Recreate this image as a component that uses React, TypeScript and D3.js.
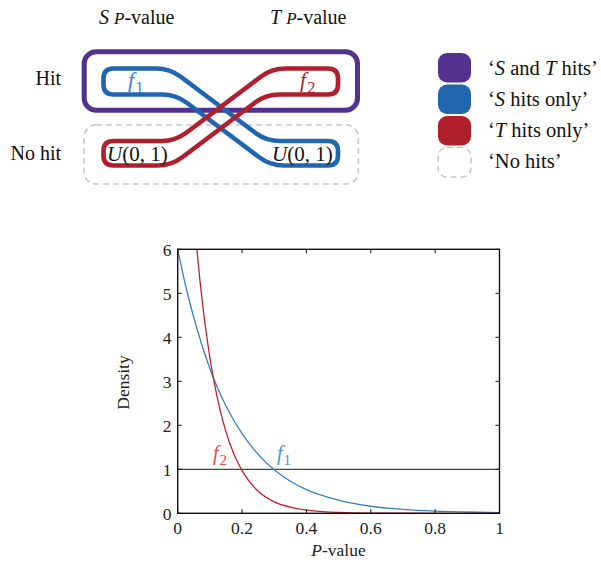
import React from "react";
import * as d3 from "d3";

// ---- data ----
const xTicks = [0, 0.2, 0.4, 0.6, 0.8, 1];
const xTickLabels = ["0", "0.2", "0.4", "0.6", "0.8", "1"];
const yTicks = [0, 1, 2, 3, 4, 5, 6];
const yTickLabels = ["0", "1", "2", "3", "4", "5", "6"];

const f1X = [0, 0.025, 0.05, 0.075, 0.1, 0.125, 0.15, 0.2, 0.25, 0.3, 0.35, 0.4, 0.5, 0.6, 0.7, 0.8, 0.9, 1.0];
const f1Y = [6, 5.16, 4.45, 3.83, 3.29, 2.83, 2.44, 1.81, 1.34, 0.99, 0.73, 0.54, 0.3, 0.16, 0.09, 0.05, 0.03, 0.015];

const f2X = [0.058, 0.07, 0.08, 0.09, 0.1, 0.115, 0.13, 0.15, 0.175, 0.2, 0.25, 0.3, 0.35, 0.4, 0.5, 0.6, 0.8, 1.0];
const f2Y = [6.12, 5.23, 4.59, 4.04, 3.54, 2.92, 2.4, 1.85, 1.34, 0.97, 0.5, 0.26, 0.14, 0.07, 0.02, 0.005, 0, 0];

const uniformLevel = 1;

const legendLabels = ["S and T hits", "S hits only", "T hits only", "No hits"];

const COL_PURPLE = "#53318f";
const COL_BLUE = "#2066ae";
const COL_RED = "#b11f2c";
const COL_GRAY = "#c8c8c8";
const COL_F1 = "#3a80c6";
const COL_F2 = "#c0212f";
const COL_F1_LABEL = "#4a93d3";
const COL_F2_LABEL = "#de4e48";

const FONT = "Liberation Serif, Times New Roman, serif";

// ---- chart geometry ----
const X0 = 177.7, X1 = 499.5, Y0 = 513.3, Y1 = 249.3;

function Sub({ base, sub, x, y, size, color, anchor }: any) {
  return (
    <text x={x} y={y} fontFamily={FONT} fontSize={size} fill={color} textAnchor={anchor || "start"}>
      <tspan fontStyle="italic">{base}</tspan>
      <tspan fontSize={size * 0.75} dx={1} dy={size * 0.25}>{sub}</tspan>
    </text>
  );
}

function Uniform({ x, y }: any) {
  return (
    <text x={x} y={y} fontFamily={FONT} fontSize={21} fill="#111">
      <tspan fontStyle="italic">U</tspan>
      <tspan>(0, 1)</tspan>
    </text>
  );
}

// blue loop: hit row on the left, no-hit row on the right
const loopPath = [
  "M113.5,68.5",
  "L156,68.5",
  "Q170,68.5 181.1,77",
  "L254.9,132.5",
  "Q266,141 280,141",
  "L328,141",
  "Q338,141 338,151",
  "L338,155.5",
  "Q338,165.5 328,165.5",
  "L284,165.5",
  "Q270,165.5 258.9,157",
  "L187.1,103",
  "Q176,94.5 162,94.5",
  "L113.5,94.5",
  "Q103.5,94.5 103.5,84.5",
  "L103.5,78.5",
  "Q103.5,68.5 113.5,68.5",
  "Z",
].join(" ");

export default function App() {
  const x = d3.scaleLinear().domain([0, 1]).range([X0, X1]);
  const y = d3.scaleLinear().domain([0, 6]).range([Y0, Y1]);

  const line = d3
    .line<[number, number]>()
    .x((d) => x(d[0]))
    .y((d) => y(d[1]))
    .curve(d3.curveMonotoneX);

  const f1 = line(f1X.map((v, i) => [v, f1Y[i]] as [number, number])) || "";
  const f2 = line(f2X.map((v, i) => [v, f2Y[i]] as [number, number])) || "";

  const tickLen = 4;
  const legendY = [53, 84.5, 116, 147.5];
  const legendTextY = [75, 105.5, 136.5, 168];

  return (
    <svg
      width={601}
      height={563}
      style={{ position: "absolute", left: 0, top: 0, background: "#fff" }}
      xmlns="http://www.w3.org/2000/svg"
    >
      <defs>
        <clipPath id="plotClip">
          <rect x={X0} y={Y1} width={X1 - X0} height={Y0 - Y1} />
        </clipPath>
      </defs>

      {/* ===== diagram ===== */}
      <text x={99} y={24} fontFamily={FONT} fontSize={20} fill="#111">
        <tspan fontStyle="italic">S</tspan>
        <tspan fontStyle="italic" fontSize={17} dx={5}>P</tspan>
        <tspan>-value</tspan>
      </text>
      <text x={270} y={24} fontFamily={FONT} fontSize={20} fill="#111">
        <tspan fontStyle="italic">T</tspan>
        <tspan fontStyle="italic" fontSize={17} dx={5}>P</tspan>
        <tspan>-value</tspan>
      </text>
      <text x={61} y={85} textAnchor="end" fontFamily={FONT} fontSize={20} fill="#111">Hit</text>
      <text x={61} y={159.5} textAnchor="end" fontFamily={FONT} fontSize={20} fill="#111">No hit</text>

      <rect x={84.2} y={51.8} width={357.5 - 84.2} height={110.2 - 51.8} rx={12} fill="none" stroke={COL_PURPLE} strokeWidth={5} />
      <rect x={84} y={125} width={358.3 - 84} height={184 - 125} rx={12} fill="none" stroke={COL_GRAY} strokeWidth={1.6} strokeDasharray="6,4" />

      <path d={loopPath} fill="none" stroke={COL_BLUE} strokeWidth={4.6} />
      <path d={loopPath} transform="translate(441.5,0) scale(-1,1)" fill="none" stroke={COL_RED} strokeWidth={4.6} />

      <Sub base="f" sub="1" x={128} y={87} size={22} color={COL_F1} />
      <Sub base="f" sub="2" x={300} y={87} size={22} color={COL_RED} />
      <Uniform x={107} y={161} />
      <Uniform x={272} y={161} />

      {/* legend */}
      {legendLabels.map((lab, i) => {
        const fill = i === 0 ? COL_PURPLE : i === 1 ? COL_BLUE : i === 2 ? COL_RED : "none";
        return (
          <g key={lab}>
            <rect
              x={438}
              y={legendY[i]}
              width={33}
              height={29.5}
              rx={9}
              fill={fill}
              stroke={i === 3 ? COL_GRAY : "none"}
              strokeWidth={1.6}
              strokeDasharray={i === 3 ? "6,4" : undefined}
            />
          </g>
        );
      })}
      <text x={488} y={legendTextY[0]} fontFamily={FONT} fontSize={20.5} fill="#111">
        ‘<tspan fontStyle="italic">S</tspan> and <tspan fontStyle="italic">T</tspan> hits’
      </text>
      <text x={488} y={legendTextY[1]} fontFamily={FONT} fontSize={20.5} fill="#111">
        ‘<tspan fontStyle="italic">S</tspan> hits only’
      </text>
      <text x={488} y={legendTextY[2]} fontFamily={FONT} fontSize={20.5} fill="#111">
        ‘<tspan fontStyle="italic">T</tspan> hits only’
      </text>
      <text x={488} y={legendTextY[3]} fontFamily={FONT} fontSize={20.5} fill="#111">
        ‘No hits’
      </text>

      {/* ===== chart ===== */}
      <line x1={X0} x2={X1} y1={y(uniformLevel)} y2={y(uniformLevel)} stroke="#444" strokeWidth={1.3} />
      <g clipPath="url(#plotClip)">
        <path d={f1} fill="none" stroke={COL_F1} strokeWidth={1.3} />
        <path d={f2} fill="none" stroke={COL_F2} strokeWidth={1.3} />
      </g>

      {/* frame */}
      <rect x={X0} y={Y1} width={X1 - X0} height={Y0 - Y1} fill="none" stroke="#111" strokeWidth={1.4} />

      {/* ticks */}
      {xTicks.map((t, i) => (
        <g key={"x" + i}>
          <line x1={x(t)} x2={x(t)} y1={Y0} y2={Y0 - tickLen} stroke="#111" strokeWidth={1} />
          <line x1={x(t)} x2={x(t)} y1={Y1} y2={Y1 + tickLen} stroke="#111" strokeWidth={1} />
          <text x={x(t)} y={533.5} textAnchor="middle" fontFamily={FONT} fontSize={17.5} fill="#222">
            {xTickLabels[i]}
          </text>
        </g>
      ))}
      {yTicks.map((t, i) => (
        <g key={"y" + i}>
          <line x1={X0} x2={X0 + tickLen} y1={y(t)} y2={y(t)} stroke="#111" strokeWidth={1} />
          <line x1={X1} x2={X1 - tickLen} y1={y(t)} y2={y(t)} stroke="#111" strokeWidth={1} />
          <text x={171.5} y={y(t) + 6.5} textAnchor="end" fontFamily={FONT} fontSize={17.5} fill="#222">
            {yTickLabels[i]}
          </text>
        </g>
      ))}

      <Sub base="f" sub="2" x={213} y={460} size={20} color={COL_F2_LABEL} />
      <Sub base="f" sub="1" x={277} y={460} size={20} color={COL_F1_LABEL} />

      <text x={338.5} y={556} textAnchor="middle" fontFamily={FONT} fontSize={17.5} fill="#222">
        <tspan fontStyle="italic">P</tspan>-value
      </text>
      <text
        transform={`translate(128.5,382.5) rotate(-90)`}
        textAnchor="middle"
        fontFamily={FONT}
        fontSize={17.5}
        fill="#222"
      >
        Density
      </text>
    </svg>
  );
}
